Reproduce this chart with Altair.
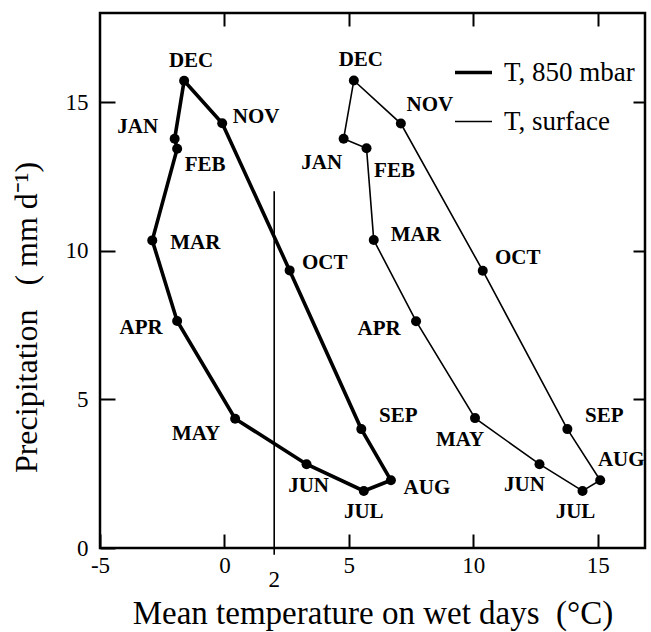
import altair as alt
import pandas as pd

# ---------------- data ----------------
months = ["JAN", "FEB", "MAR", "APR", "MAY", "JUN", "JUL", "AUG", "SEP", "OCT", "NOV", "DEC"]
series_names = ["T, 850 mbar", "T, surface"]

t850_temp = [-2.0, -1.9, -2.9, -1.9, 0.43, 3.3, 5.6, 6.69, 5.5, 2.62, -0.09, -1.62]
t850_precip = [13.77, 13.43, 10.35, 7.64, 4.35, 2.82, 1.92, 2.28, 4.0, 9.34, 14.29, 15.72]

tsfc_temp = [4.79, 5.71, 6.0, 7.7, 10.07, 12.66, 14.39, 15.1, 13.78, 10.38, 7.09, 5.2]
tsfc_precip = [13.77, 13.45, 10.36, 7.63, 4.37, 2.82, 1.92, 2.28, 4.0, 9.33, 14.28, 15.73]

x_ticks = [-5, 0, 5, 10, 15]
y_ticks = [0, 5, 10, 15]
top_ticks = [0, 5, 10, 15]
right_ticks = [5, 10, 15]
x_domain = [-5, 16.9]
y_domain = [0, 18]

threshold_temp = [2]
threshold_label = ["2"]
threshold_bottom = [-0.23]
threshold_top = [12]
label_base = [0]

# ---------------- styles ----------------
FONT = "Liberation Serif"
NB = "\u00a0"
LABEL_OFFSETS = {  # pixel offsets of month labels from their points
    "T, 850 mbar": {
        "JAN": (-37, -12), "FEB": (28, 16), "MAR": (43, 3), "APR": (-36, 7),
        "MAY": (-39, 15), "JUN": (2, 22), "JUL": (0, 21), "AUG": (36, 8),
        "SEP": (37, -13), "OCT": (35, -7), "NOV": (34, -6), "DEC": (7, -20),
    },
    "T, surface": {
        "JAN": (-22, 24), "FEB": (28, 23), "MAR": (42, -5), "APR": (-37, 8),
        "MAY": (-15, 22), "JUN": (-15, 21), "JUL": (-7, 21), "AUG": (21, -20),
        "SEP": (37, -13), "OCT": (35, -13), "NOV": (29, -19), "DEC": (7, -20),
    },
}

# ---------------- tables ----------------
rows = []
for name, temps, precs in [(series_names[0], t850_temp, t850_precip),
                           (series_names[1], tsfc_temp, tsfc_precip)]:
    for i, m in enumerate(months):
        rows.append({"series": name, "month": m, "temp": temps[i], "precip": precs[i], "order": i})
points_df = pd.DataFrame(rows)

# closed loop: repeat first month at the end
line_rows = list(rows)
for name in series_names:
    first = [r for r in rows if r["series"] == name][0]
    line_rows.append(dict(first, order=len(months)))
line_df = pd.DataFrame(line_rows)

rule_df = pd.DataFrame({"x": threshold_temp, "y": threshold_bottom, "y2": threshold_top,
                        "base": label_base, "label": threshold_label})

xscale = alt.Scale(domain=x_domain, nice=False, zero=False)
yscale = alt.Scale(domain=y_domain, nice=False, zero=False)

bottom_axis = alt.Axis(
    orient="bottom", values=x_ticks, offset=-14, tickSize=14, tickWidth=2, tickColor="black",
    domain=False, grid=False, labelFont=FONT, labelFontSize=23, labelColor="black",
    labelPadding=6, labelFlush=False, labelOverlap=False, labelExpr="datum.value + ''",
    title=f"Mean temperature on wet days{NB}{NB}(°C)", titleFont=FONT, titleFontSize=33,
    titleFontWeight="normal", titleColor="black", titlePadding=20,
)
left_axis = alt.Axis(
    orient="left", values=y_ticks, offset=-15, tickSize=15, tickWidth=2, tickColor="black",
    domain=False, grid=False, labelFont=FONT, labelFontSize=23, labelColor="black",
    labelPadding=12, labelFlush=False, labelOverlap=False,
    title=f"Precipitation{NB}{NB}{NB}({NB}mm{NB}d⁻¹)", titleFont=FONT, titleFontSize=32,
    titleFontWeight="normal", titleColor="black", titleAngle=270,
    titleX=-89, titleY=304, titleAlign="center", titleBaseline="middle",
)
top_axis = alt.Axis(
    orient="top", values=top_ticks, offset=-13, tickSize=13, tickWidth=2, tickColor="black",
    domain=False, grid=False, labels=False, title=None,
)
right_axis = alt.Axis(
    orient="right", values=right_ticks, offset=-12, tickSize=12, tickWidth=2, tickColor="black",
    domain=False, grid=False, labels=False, title=None,
)

line = alt.Chart(line_df).mark_line(color="black").encode(
    x=alt.X("temp:Q", scale=xscale, axis=bottom_axis),
    y=alt.Y("precip:Q", scale=yscale, axis=left_axis),
    order="order:Q",
    detail="series:N",
    strokeWidth=alt.StrokeWidth(
        "series:N",
        scale=alt.Scale(domain=series_names, range=[3.6, 1.6]),
        legend=alt.Legend(
            title=None, orient="none", legendX=353, legendY=39, symbolType="stroke",
            symbolSize=1369, symbolStrokeColor="black", labelFont=FONT, labelFontSize=27,
            labelColor="black", labelOffset=10, rowPadding=16, padding=0,
        ),
    ),
)

rule = alt.Chart(rule_df).mark_rule(color="black", strokeWidth=1.6).encode(
    x=alt.X("x:Q", scale=xscale, axis=top_axis),
    y=alt.Y("y:Q", scale=yscale, axis=right_axis),
    y2="y2:Q",
)

rule_label = alt.Chart(rule_df).mark_text(
    font=FONT, fontSize=23, color="black", baseline="middle", dy=32
).encode(
    x=alt.X("x:Q", scale=xscale, axis=None),
    y=alt.Y("base:Q", scale=yscale, axis=None),
    text="label:N",
)

points = alt.Chart(points_df).mark_circle(size=100, color="black", opacity=1).encode(
    x=alt.X("temp:Q", scale=xscale, axis=None),
    y=alt.Y("precip:Q", scale=yscale, axis=None),
)

label_layers = []
for s in series_names:
    for m in months:
        dx, dy = LABEL_OFFSETS[s][m]
        label_layers.append(
            alt.Chart(points_df)
            .transform_filter((alt.datum.series == s) & (alt.datum.month == m))
            .mark_text(font=FONT, fontSize=21, fontWeight="bold", color="black", dx=dx, dy=dy,
                       align="center", baseline="middle")
            .encode(
                x=alt.X("temp:Q", scale=xscale, axis=None),
                y=alt.Y("precip:Q", scale=yscale, axis=None),
                text="month:N",
            )
        )

chart = (
    alt.layer(line, rule, points, rule_label, *label_layers)
    .resolve_axis(x="independent", y="independent")
    .properties(
        width=545, height=535,
        autosize=alt.AutoSizeParams(type="none"),
        padding={"left": 100, "top": 13, "right": 6, "bottom": 84},
        background="white",
    )
    .configure_view(stroke="black", strokeWidth=2.5)
)

chart.save("out.html", embed_options={"renderer": "svg", "actions": False})
